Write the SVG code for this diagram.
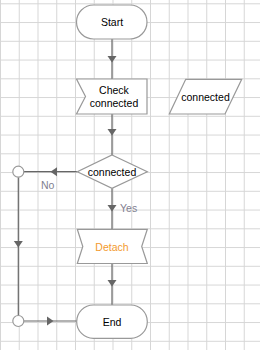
<svg xmlns="http://www.w3.org/2000/svg" width="260" height="350" viewBox="0 0 260 350">
<defs>
<pattern id="grid" x="0" y="3.3" width="18.75" height="18.75" patternUnits="userSpaceOnUse">
<path d="M0.5 0 V18.75 M0 0.5 H18.75" fill="none" stroke="#d6d6d6" stroke-width="1"/>
</pattern>
</defs>
<style>
.shape{fill:#fff;stroke:#999;stroke-width:1.2}
.conn{fill:none;stroke:#666;stroke-width:1.2}
.head{fill:#666}
.t{font-family:"Liberation Sans","DejaVu Sans",sans-serif;font-size:10.5px;fill:#000;text-anchor:middle;dominant-baseline:central}
.lbl{font-family:"Liberation Sans","DejaVu Sans",sans-serif;font-size:10.5px;fill:#7f8090;dominant-baseline:central}
.circ{fill:#fff;stroke:#999;stroke-width:1.2}
</style>
<rect width="260" height="350" fill="#fff"/>
<rect width="260" height="350" fill="url(#grid)"/>
<g id="connectors">
<path class="conn" d="M112 39 V79"/>
<path class="head" d="M107.5 56 L116.5 56 L112 62.5 Z"/>
<path class="conn" d="M112 114 V155"/>
<path class="head" d="M107.5 129 L116.5 129 L112 135.5 Z"/>
<path class="conn" d="M77 171.7 H24"/>
<path class="head" d="M57 167.2 L57 176.2 L50.5 171.7 Z"/>
<path class="conn" d="M112 188.3 V229"/>
<path class="head" d="M107.5 205 L116.5 205 L112 211.5 Z"/>
<path class="conn" d="M112 263.5 V305"/>
<path class="head" d="M107.5 280 L116.5 280 L112 286.5 Z"/>
<path class="conn" d="M18.3 177.2 V315.5"/>
<path class="head" d="M13.8 241 L22.8 241 L18.3 247.5 Z"/>
<path class="conn" d="M23.8 321 H77"/>
<path class="head" d="M47 316.5 L47 325.5 L53.5 321 Z"/>
<text class="lbl" x="41" y="185">No</text>
<text class="lbl" x="120" y="207.7">Yes</text>
</g>
<g id="start">
<rect class="shape" x="76.5" y="5" width="70.5" height="34" rx="17"/>
<text class="t" x="112" y="22">Start</text>
</g>
<g id="check">
<path class="shape" d="M76.5 79 H147 V114 H76.5 L85.5 96.5 Z"/>
<text class="t" x="114" y="90">Check</text>
<text class="t" x="114" y="103">connected</text>
</g>
<g id="data">
<path class="shape" d="M185.7 79.3 H241.7 L225 114 H169.3 Z"/>
<text class="t" x="205.5" y="97">connected</text>
</g>
<g id="decision">
<path class="shape" d="M112 155 L147.3 171.7 L112 188.3 L77.3 171.7 Z"/>
<text class="t" x="112" y="171.7">connected</text>
</g>
<g id="detach">
<path class="shape" d="M77.3 229.3 H147.3 L141.7 246.5 L147.3 263.5 H77.3 L82.8 246.5 Z"/>
<text class="t" x="112" y="246.5" style="fill:#f39a2e">Detach</text>
</g>
<g id="end">
<rect class="shape" x="76.7" y="305" width="70.6" height="33.3" rx="16.6"/>
<text class="t" x="112" y="321.7">End</text>
</g>
<g id="merge1">
<circle class="circ" cx="18.3" cy="171.7" r="5.5"/>
</g>
<g id="merge2">
<circle class="circ" cx="18.3" cy="321" r="5.5"/>
</g>
</svg>
